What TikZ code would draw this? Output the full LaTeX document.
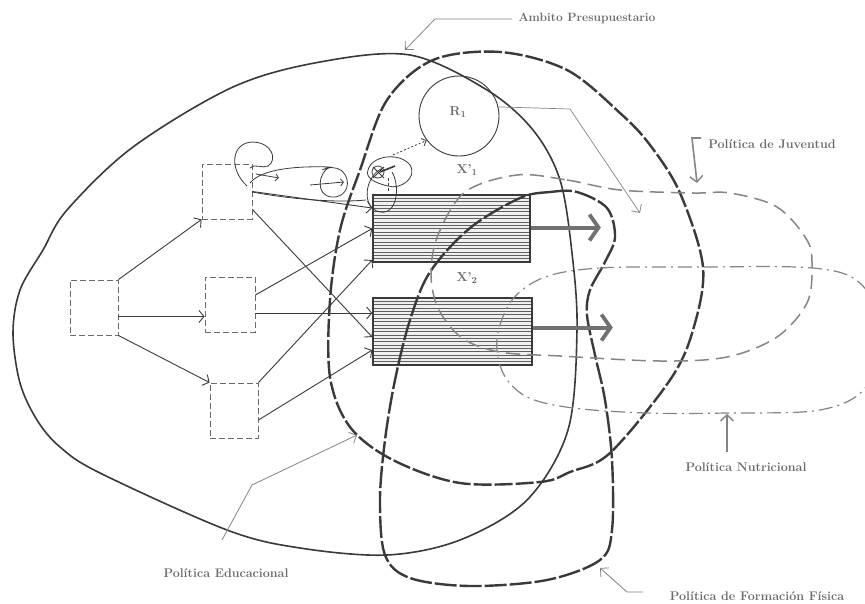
\documentclass[tikz,border=0pt]{standalone}
\usepackage{fontspec}
\usetikzlibrary{arrows.meta,calc}
\definecolor{ink}{HTML}{3A3A3A}
\definecolor{txt}{HTML}{6A6A6A}
\definecolor{soft}{HTML}{858585}
\begin{document}
\begin{tikzpicture}[x=1pt,y=-1pt,
  box/.style={draw=soft!80!black, dash pattern=on 6pt off 3pt, line width=0.9pt, minimum width=48pt, minimum height=55pt, inner sep=0pt},
  hrect/.style={draw=ink, line width=1.6pt, fill=gray!12, minimum width=157pt, minimum height=67pt, inner sep=0pt,
    path picture={\foreach \k in {1,...,19} \draw[gray!75!black, line width=0.55pt] ($(path picture bounding box.north west)!\k/20!(path picture bounding box.south west)$) -- ++(200,0);}},
  lbl/.style={text=txt, font=\fontsize{12.5}{14}\selectfont\bfseries, inner sep=0pt},
  mlbl/.style={text=txt, font=\fontsize{13}{15}\selectfont\bfseries, inner sep=0pt},
  flow/.style={draw=ink, line width=0.9pt, -{Straight Barb[length=5pt,width=12pt,line width=0.9pt]}},
  lead/.style={draw=soft, line width=0.8pt, -{Straight Barb[length=6pt,width=12pt,line width=0.8pt]}},
  big/.style={draw=soft!85!black, line width=4pt, -{Straight Barb[length=9pt,width=26pt,line width=3.8pt]}},
  scrib/.style={draw=ink, line width=0.8pt},
  curveA/.style={draw=ink, line width=1.6pt},
  curveB/.style={draw=ink, line width=2.4pt, dash pattern=on 18pt off 3pt},
  curveC/.style={draw=ink, line width=2.4pt, dash pattern=on 22pt off 3pt},
  curveD/.style={draw=soft, line width=1.5pt, dash pattern=on 14pt off 7pt},
  curveE/.style={draw=soft, line width=1.2pt, dash pattern=on 14pt off 5pt on 2pt off 5pt},
]
\fill[white] (0,0) rectangle (865,603);
\useasboundingbox (0,0) rectangle (865,603);

% hatched rectangles
\node[hrect] (r1) at (451.5,228.5) {};
\node[hrect, minimum width=159pt] (r2) at (452.5,331.5) {};

% dashed boxes
\node[box] (b0) at (94,307.5) {};
\node[box, minimum width=50pt] (bt) at (227,191.5) {};
\node[box, minimum width=50pt] (bm) at (230,304.5) {};
\node[box] (bb) at (234,410.5) {};

% circle R1
\node[draw=ink, line width=0.9pt, circle, minimum size=80pt, inner sep=0pt] (R1) at (459,116) {};
\node[mlbl] (R1t) at (458,112) {R\textsubscript{1}};
\node[mlbl] (x1) at (467,170) {X'\textsubscript{1}};
\node[mlbl] (x2) at (467,278) {X'\textsubscript{2}};

% curve A : Ambito Presupuestario (outer)
\draw[curveA] plot[smooth cycle, tension=0.55] coordinates {
 (13,333) (20,290) (43,250) (67,210) (133,147) (233,87) (320,62) (410,55) (487,90) (533,130)
 (560,180) (572,253) (577,330) (568,430) (527,500) (460,540) (387,555) (300,548) (227,530)
 (100,473) (60,447) (37,420) (20,383)};

% curve B : Politica Educacional
\draw[curveB] plot[smooth cycle, tension=0.55] coordinates {
 (330,300) (340,230) (360,170) (387,100) (433,60) (500,52) (567,70) (620,113) (650,145)
 (680,193) (703,267) (693,330) (670,380) (610,453) (570,472) (540,482) (460,483) (393,460)
 (350,427) (330,377)};

% curve C : Politica de Formacion Fisica
\draw[curveC] plot[smooth cycle, tension=0.55] coordinates {
 (520,198) (550,192) (577,192) (607,208) (615,237) (605,262) (590,290) (587,315) (595,355)
 (605,400) (612,460) (612,530) (600,560) (547,580) (470,586) (410,578) (385,555) (380,500)
 (385,440) (395,380) (410,320) (430,272) (470,228)};

% curve D : Politica de Juventud
\draw[curveD] plot[smooth cycle, tension=0.55] coordinates {
 (517,175) (567,180) (620,190) (693,193) (730,193) (777,207) (807,240) (812,267) (807,303)
 (777,337) (727,357) (660,361) (560,356) (500,352) (462,338) (438,308) (431,273) (438,235)
 (465,192)};

% curve E : Politica Nutricional
\draw[curveE] plot[smooth cycle, tension=0.55] coordinates {
 (545,277) (600,268) (700,267) (813,268) (860,283) (882,330) (866,387) (820,410) (727,413)
 (647,413) (573,408) (527,397) (503,373) (497,338) (512,300)};

% flows between boxes
\draw[flow] (b0.north east) -- (bt.south west);
\draw[flow] ([yshift=-9pt]b0.east) -- ([yshift=-9pt]b0.east -| bm.west);
\draw[flow] (b0.south east) -- (bb.north west);

\draw[flow] (bt.east) -- ([yshift=20.5pt]r1.west);
\draw[flow] ([yshift=-18pt]bt.east) -- ([yshift=-5.5pt]r2.west);
\draw[flow] ([yshift=9.5pt]bm.east) -- (r1.west);
\draw[flow] ([yshift=-8.5pt]bm.east) -- ([yshift=18.5pt]r2.west);
\draw[flow] (bb.north east) -- ([yshift=-31.5pt]r1.west);
\draw[flow] ([yshift=-9.5pt]bb.east) -- ([yshift=-18.5pt]r2.west);

% outputs
\draw[big] ([yshift=1pt]r1.east) -- ++(70,0);
\draw[big] ([yshift=4pt]r2.east) -- ++(80,0);

% scribbled feedback loops
\draw[scrib] (247,186) .. controls (228,168) and (232,143) .. (252,142) .. controls (272,142) and (278,160) .. (268,166) .. controls (262,169) and (256,163) .. (250,168);
\draw[scrib, -{Straight Barb[length=3pt,width=7pt]}] (256,174) -- (279,178);
\draw[scrib] (250,183) .. controls (262,168) and (300,166) .. (330,167) .. controls (318,172) and (315,196) .. (332,197) .. controls (348,198) and (352,180) .. (342,171) .. controls (335,166) and (328,167) .. (322,170);
\draw[scrib, -{Straight Barb[length=3pt,width=7pt]}] (310,185) -- (344,182);
\draw[scrib] (252,192) .. controls (290,199) and (335,203) .. (366,200);
\draw[scrib] (368,170) .. controls (372,155) and (400,152) .. (410,165) .. controls (418,178) and (400,190) .. (388,186) .. controls (375,183) and (365,178) .. (368,170);
\draw[scrib] (383,168) .. controls (365,175) and (360,208) .. (380,212) .. controls (398,215) and (400,185) .. (392,172);
\draw[scrib] (378,172) circle (6);
\draw[scrib] (373,167) -- (384,178) (373,178) -- (384,167);
\draw[scrib, line width=1.6pt] (380,172) -- (395,166);
\draw[scrib, dash pattern=on 3pt off 2pt] (388,178) -- (388,193);
\draw[scrib, dash pattern=on 2pt off 2pt, -{Straight Barb[length=4pt,width=8pt]}] (393,155) -- (R1.217);

% line from R1
\coordinate (rk) at (570,109);
\coordinate (rt) at (640,213);
\draw[lead, line width=0.7pt] (R1.13) -- (rk) -- (rt);

% labels and leaders
\node[lbl, font=\fontsize{12}{14}\selectfont\bfseries] (amb) at (587,18) {Ambito Presupuestario};
\coordinate (ambs) at (512,19);
\coordinate (ambk) at (435,19);
\coordinate (ambt) at (405,50);
\draw[lead] (ambs) -- (ambk) -- (ambt);

\node[lbl] (juv) at (772,144) {Política de Juventud};
\coordinate (juvs) at (701,138);
\coordinate (juvk) at (692,138);
\coordinate (juvt) at (697,183);
\draw[lead, line width=1.6pt, -{Straight Barb[length=6pt,width=13pt,line width=1.4pt]}] (juvs) -- (juvk) -- (juvt);

\node[lbl] (nut) at (746,467) {Política Nutricional};
\coordinate (nuts) at (727,452);
\coordinate (nutt) at (727,414);
\draw[lead, line width=1.6pt, -{Straight Barb[length=6pt,width=13pt,line width=1.4pt]}] (nuts) -- (nutt);

\node[lbl] (ff) at (757,596) {Política de Formación Física};
\coordinate (ffs) at (643,592);
\coordinate (ffk) at (627,592);
\coordinate (fft) at (600,568);
\draw[lead] (ffs) -- (ffk) -- (fft);

\node[lbl] (edu) at (226,573) {Política Educacional};
\coordinate (eds) at (222,540);
\coordinate (eduk) at (252,485);
\coordinate (edut) at (357,435);
\draw[lead] (eds) -- (eduk) -- (edut);
\end{tikzpicture}
\end{document}
